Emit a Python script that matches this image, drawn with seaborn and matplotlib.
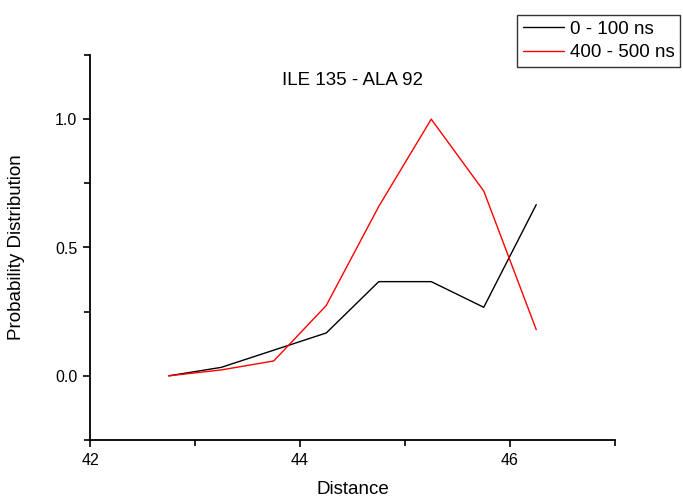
import numpy as np
import pandas as pd
import matplotlib
matplotlib.use("Agg")
import matplotlib.pyplot as plt
import seaborn as sns
from matplotlib.ticker import MultipleLocator

distance = [42.75, 43.25, 43.75, 44.25, 44.75, 45.25, 45.75, 46.25]
prob_0_100 = [0.0, 0.033, 0.10, 0.167, 0.367, 0.367, 0.267, 0.667]
prob_400_500 = [0.0, 0.023, 0.058, 0.274, 0.66, 1.0, 0.72, 0.18]
series_names = ["0 - 100 ns", "400 - 500 ns"]

df = pd.DataFrame({
    "Distance": distance * 2,
    "Prob": prob_0_100 + prob_400_500,
    "Series": [series_names[0]] * len(distance) + [series_names[1]] * len(distance),
})

sns.set_style("ticks")
plt.rcParams["font.family"] = ["Liberation Sans", "DejaVu Sans"]
plt.rcParams["text.color"] = "black"
plt.rcParams["axes.labelcolor"] = "black"

fig = plt.figure(figsize=(6.83, 4.98), dpi=100)
ax = fig.add_axes([90 / 683, 1 - 440 / 498, (615 - 90) / 683, (440 - 55) / 498])

sns.lineplot(data=df, x="Distance", y="Prob", hue="Series",
             palette=["black", "red"], linewidth=1.0, ax=ax, legend=True)

ax.set_xlim(42, 47)
ax.set_ylim(-0.25, 1.25)
ax.xaxis.set_minor_locator(MultipleLocator(1))
ax.yaxis.set_minor_locator(MultipleLocator(0.25))
ax.set_xticks([42, 44, 46])
ax.set_xticklabels(["42", "44", "46"])
ax.set_yticks([0.0, 0.5, 1.0])
ax.set_yticklabels(["0.0", "0.5", "1.0"])
ax.tick_params(which="major", direction="out", length=5, width=1.2, labelsize=11.5,
               colors="black", pad=4)
ax.tick_params(which="minor", direction="out", length=4, width=1.2, colors="black")

for s in ["top", "right"]:
    ax.spines[s].set_visible(False)
for s in ["left", "bottom"]:
    ax.spines[s].set_linewidth(1.3)
    ax.spines[s].set_color("black")

ax.set_xlabel("Distance", fontsize=13.5, labelpad=10)
ax.set_ylabel("Probability Distribution", fontsize=13.5, labelpad=22)
ax.text(0.5, 0.935, "ILE 135 - ALA 92", transform=ax.transAxes,
        ha="center", va="center", fontsize=13.5)

leg = ax.legend(loc="upper right", bbox_to_anchor=(680 / 683, 1 - 15 / 498),
                bbox_transform=fig.transFigure, frameon=True, fontsize=13.5,
                fancybox=False, handlelength=2.2, borderpad=0.3,
                labelspacing=0.35, handletextpad=0.3, borderaxespad=0)
leg.get_frame().set_edgecolor("black")
leg.get_frame().set_linewidth(1.0)
leg.set_title(None)

fig.savefig("out.png", dpi=100)
